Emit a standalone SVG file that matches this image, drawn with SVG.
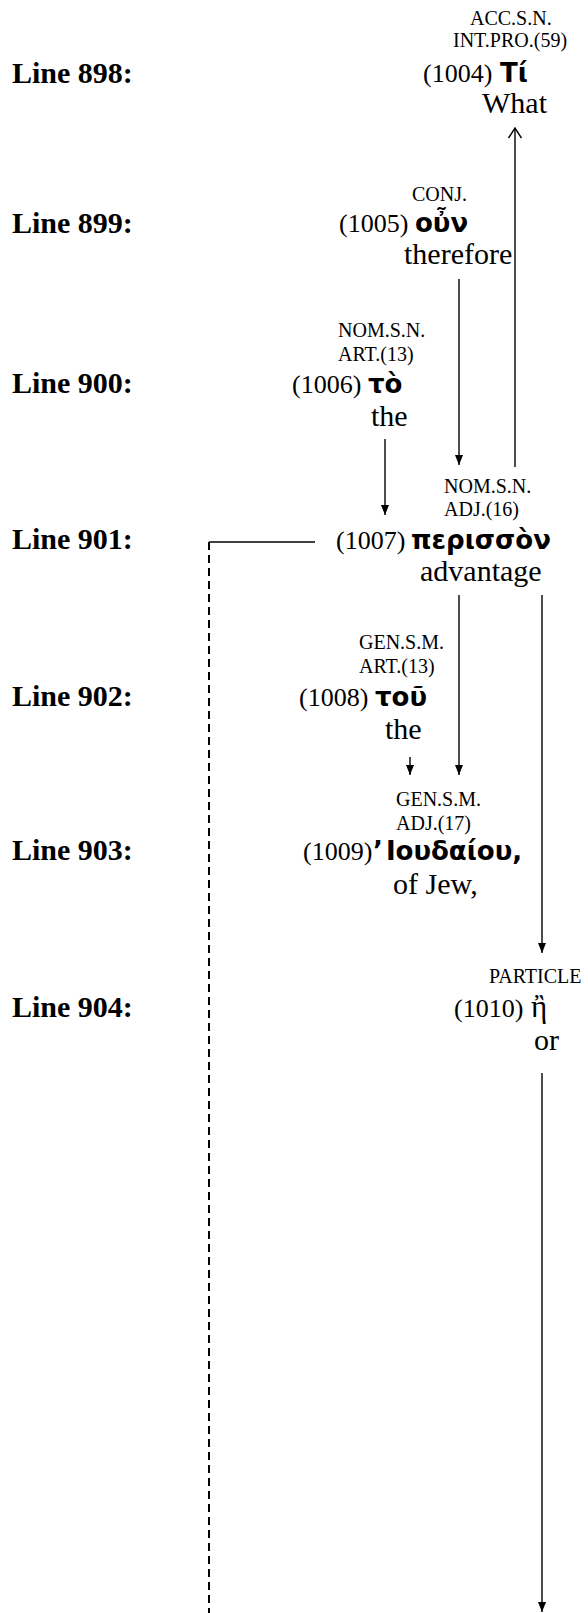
<svg xmlns="http://www.w3.org/2000/svg" width="588" height="1613" viewBox="0 0 588 1613">
<style>
.ln{font-family:"Liberation Serif","Times New Roman",serif;font-weight:bold;font-size:30px;fill:#000}
.tag{font-family:"Liberation Serif","Times New Roman",serif;font-size:20px;fill:#000}
.num{font-family:"Liberation Serif","Times New Roman",serif;font-size:26px;fill:#000}
.gk{font-family:"DejaVu Sans","Noto Sans",sans-serif;font-weight:bold;font-size:26px;fill:#000}
.gr{font-family:"Liberation Serif","Times New Roman",serif;font-size:31px;fill:#000}
.en{font-family:"Liberation Serif","Times New Roman",serif;font-size:30px;fill:#000}
.c{stroke:#000;stroke-width:1.4;fill:none}
.d{stroke:#000;stroke-width:2;fill:none;stroke-dasharray:8 5}
</style>
<defs>
<marker id="ah" markerUnits="userSpaceOnUse" markerWidth="10" markerHeight="10" viewBox="0 0 10 10" refX="10" refY="5" orient="auto">
<path d="M0,1 L10,5 L0,9 Z" fill="#000"/>
</marker>
<marker id="oh" markerUnits="userSpaceOnUse" markerWidth="12" markerHeight="14" viewBox="0 0 12 14" refX="11" refY="7" orient="auto">
<path d="M1,0.5 L11,7 L1,13.5" fill="none" stroke="#000" stroke-width="1.4"/>
</marker>
</defs>
<g id="line-labels">
<text class="ln" x="12" y="83">Line 898:</text>
<text class="ln" x="12" y="233">Line 899:</text>
<text class="ln" x="12" y="393">Line 900:</text>
<text class="ln" x="12" y="549">Line 901:</text>
<text class="ln" x="12" y="706">Line 902:</text>
<text class="ln" x="12" y="860">Line 903:</text>
<text class="ln" x="12" y="1017">Line 904:</text>
</g>
<g id="n1004">
<text class="tag" x="470" y="25">ACC.S.N.</text>
<text class="tag" x="453" y="47">INT.PRO.(59)</text>
<text class="num" x="423" y="82">(1004)</text>
<text class="gk" x="500" y="82">Τί</text>
<text class="en" x="482" y="113">What</text>
</g>
<g id="n1005">
<text class="tag" x="412" y="201">CONJ.</text>
<text class="num" x="339" y="232">(1005)</text>
<text class="gk" x="415" y="232">οὖν</text>
<text class="en" x="404" y="264">therefore</text>
</g>
<g id="n1006">
<text class="tag" x="338" y="337">NOM.S.N.</text>
<text class="tag" x="338" y="361">ART.(13)</text>
<text class="num" x="292" y="393">(1006)</text>
<text class="gk" x="368" y="393">τὸ</text>
<text class="en" x="371" y="426">the</text>
</g>
<g id="n1007">
<text class="tag" x="444" y="493">NOM.S.N.</text>
<text class="tag" x="444" y="516">ADJ.(16)</text>
<text class="num" x="336" y="549">(1007)</text>
<text class="gk" x="411" y="549">περισσὸν</text>
<text class="en" x="420" y="581">advantage</text>
</g>
<g id="n1008">
<text class="tag" x="359" y="649">GEN.S.M.</text>
<text class="tag" x="359" y="673">ART.(13)</text>
<text class="num" x="299" y="706">(1008)</text>
<text class="gk" x="375" y="706">τοῦ</text>
<text class="en" x="385" y="739">the</text>
</g>
<g id="n1009">
<text class="tag" x="396" y="806">GEN.S.M.</text>
<text class="tag" x="396" y="830">ADJ.(17)</text>
<text class="num" x="303" y="860">(1009)</text>
<text class="gk" x="373" y="860">’<tspan dx="3">Ιουδαίου,</tspan></text>
<text class="en" x="393" y="894">of Jew,</text>
</g>
<g id="n1010">
<text class="tag" x="489" y="983">PARTICLE</text>
<text class="num" x="454" y="1017">(1010)</text>
<text class="gr" x="531" y="1017">ἢ</text>
<text class="en" x="534" y="1050">or</text>
</g>
<g id="connectors">
<line class="c" x1="515" y1="467" x2="515" y2="128" marker-end="url(#oh)"/>
<line class="c" x1="459" y1="279" x2="459" y2="465" marker-end="url(#ah)"/>
<line class="c" x1="385" y1="439" x2="385" y2="515" marker-end="url(#ah)"/>
<line class="c" x1="459" y1="595" x2="459" y2="775" marker-end="url(#ah)"/>
<line class="c" x1="410" y1="757" x2="410" y2="775" marker-end="url(#ah)"/>
<line class="c" x1="542" y1="595" x2="542" y2="953" marker-end="url(#ah)"/>
<line class="c" x1="542" y1="1073" x2="542" y2="1612" marker-end="url(#ah)"/>
<polyline class="c" points="315,542 209,542"/>
<line class="d" x1="209" y1="542" x2="209" y2="1613"/>
</g>
</svg>
